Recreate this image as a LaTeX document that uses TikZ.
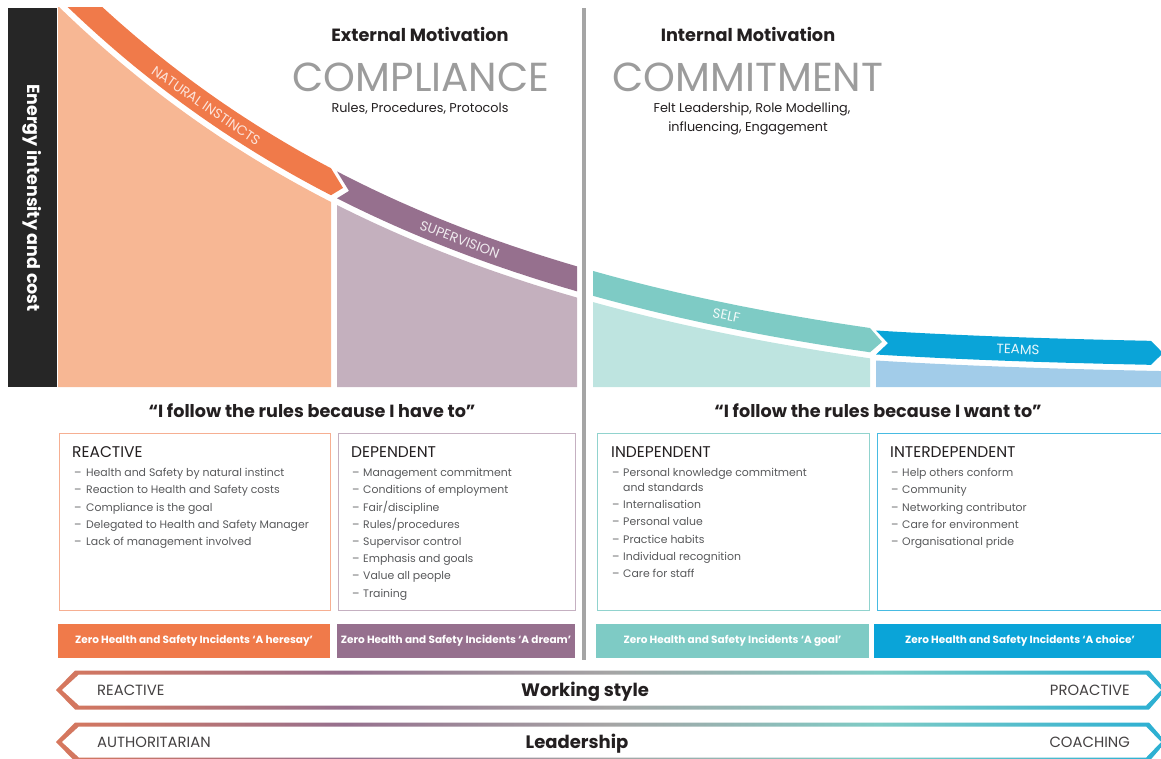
\documentclass[tikz,border=0pt]{standalone}
\usepackage{fontspec}
\setmainfont{Poppins}
\usetikzlibrary{positioning}

\definecolor{instinct}{HTML}{F07A4A}
\definecolor{instinctfill}{HTML}{F7B794}
\definecolor{superv}{HTML}{96708E}
\definecolor{supervfill}{HTML}{C4B0BE}
\definecolor{selfband}{HTML}{7ECBC5}
\definecolor{selffill}{HTML}{BEE4E0}
\definecolor{teams}{HTML}{0AA4D8}
\definecolor{teamsfill}{HTML}{A2CCE9}
\definecolor{axisbar}{HTML}{262626}
\definecolor{divider}{HTML}{A5A5A5}
\definecolor{headgray}{HTML}{9C9C9C}
\definecolor{darktext}{HTML}{231F20}
\definecolor{itemgray}{HTML}{58595B}

\pgfdeclarehorizontalshading{styleshade}{100bp}{color(0bp)=(instinct); color(20bp)=(instinct); color(38bp)=(superv); color(50bp)=(divider); color(62bp)=(selfband); color(80bp)=(teams); color(100bp)=(teams)}

% the falling curve and its offsets
\pgfmathdeclarefunction{crv}{1}{\pgfmathparse{419.5-411.5*exp(-(#1-60)/425)}}
\pgfmathdeclarefunction{crvoff}{2}{\pgfmathparse{crv(#1)-#2*sqrt(1+((419.5-crv(#1))/425)^2)}}
\pgfmathdeclarefunction{crvang}{1}{\pgfmathparse{-atan((419.5-crv(#1))/425)}}
\pgfmathdeclarefunction{flat}{1}{\pgfmathparse{376-15.5*exp(-(#1-876)/250)}}

\tikzset{
  bandtxt/.style={text=white, font=\fontsize{13.5}{15}\selectfont, inner sep=0pt, anchor=mid},
  headtxt/.style={text=darktext, font=\bfseries\fontsize{17.7}{20}\selectfont, anchor=mid},
  bigtxt/.style={text=headgray, font=\fontsize{40.5}{44}\selectfont, anchor=mid},
  subtxt/.style={text=darktext, font=\fontsize{12.8}{15}\selectfont, anchor=mid},
  quotetxt/.style={text=darktext, font=\bfseries\fontsize{17.6}{20}\selectfont, anchor=mid},
  stagebox/.style={draw=#1, line width=1.3pt, minimum height=177pt, anchor=north west},
  boxttl/.style={text=darktext, font=\fontsize{15.5}{18}\selectfont, anchor=mid west, inner sep=0pt},
  itemtxt/.style={text=itemgray, font=\fontsize{10.9}{13}\selectfont, anchor=mid west, inner sep=0pt},
  zerobar/.style={fill=#1, text=white, font=\bfseries\fontsize{10.5}{13}\selectfont, minimum height=34pt, inner sep=0pt},
  sidetxt/.style={text=darktext!85, font=\fontsize{14.8}{17}\selectfont, inner sep=0pt},
  axistxt/.style={text=darktext, font=\bfseries\fontsize{18}{20}\selectfont, anchor=mid},
}

\begin{document}
\begin{tikzpicture}[x=1pt, y=-1pt]
\useasboundingbox (0,0) rectangle (1161,759);

% energy axis
\fill[axisbar] (8,8) rectangle (57,387);
\node[text=white, font=\bfseries\fontsize{17.5}{20}\selectfont, rotate=-90] (energy) at (32,198) {Energy intensity and cost};

\begin{scope}
\clip (0,8) rectangle (1161,759);
% areas under the curve
\fill[instinctfill] (58,387) -- plot[domain=58:331,samples=60] (\x,{crv(\x)}) -- (331,387) -- cycle;
\fill[supervfill] (337,387) -- plot[domain=337:577,samples=40] (\x,{crv(\x)}) -- (577,387) -- cycle;
\fill[selffill] (593,387) -- plot[domain=593:870,samples=40] (\x,{crv(\x)}) -- (870,387) -- cycle;
\fill[teamsfill] (876,387) -- plot[domain=876:1161,samples=30] (\x,{flat(\x)}) -- (1161,387) -- cycle;

% bands along the curve
\fill[instinct] plot[domain=40:331,samples=60] (\x,{crvoff(\x,30)}) -- (343,{crvoff(343,18)})
  -- plot[domain=331:40,samples=60] (\x,{crvoff(\x,6)}) -- cycle;
\fill[superv] (337,{crvoff(337,30)}) -- plot[domain=337:577,samples=40] (\x,{crvoff(\x,30)})
  -- plot[domain=577:337,samples=40] (\x,{crvoff(\x,6)}) -- (349,{crvoff(349,18)}) -- cycle;
\fill[selfband] plot[domain=593:870,samples=40] (\x,{crvoff(\x,30)}) -- (882,{crvoff(882,18)})
  -- plot[domain=870:593,samples=40] (\x,{crvoff(\x,6)}) -- cycle;
\fill[teams] (876,{flat(876)-30}) -- plot[domain=876:1151,samples=30] (\x,{flat(\x)-30}) -- (1163,{flat(1163)-18})
  -- plot[domain=1151:876,samples=30] (\x,{flat(\x)-6}) -- (888,{flat(888)-18}) -- cycle;
\end{scope}

\node[bandtxt, text=white!80!instinct, rotate={crvang(205)}] (natural) at (205,{crvoff(205,16)}) {NATURAL INSTINCTS};
\node[bandtxt, text=white!85!superv, rotate={crvang(459)}] (supervision) at (459,{crvoff(459,16)}) {SUPERVISION};
\node[bandtxt, text=white!90!selfband, rotate={crvang(726)}] (self) at (726,{crvoff(726,16)}) {SELF};
\node[bandtxt, text=white!90!teams, rotate=-2] (teamlbl) at (1018,{flat(1018)-16}) {TEAMS};

% divider
\fill[divider] (582,8) rectangle (586,660);

% headings
\node[headtxt] (extmot) at (420,39) {External Motivation};
\node[bigtxt] (compliance) at (421,89) {COMPLIANCE};
\node[subtxt] (rules) at (420,110) {Rules, Procedures, Protocols};
\node[headtxt] (intmot) at (748,39) {Internal Motivation};
\node[bigtxt] (commitment) at (748,89) {COMMITMENT};
\node[subtxt] (felt) at (752,110) {Felt Leadership, Role Modelling,};
\node[subtxt] (influencing) at (748,129) {influencing, Engagement};

\node[quotetxt] (haveto) at (312,415) {“I follow the rules because I have to”};
\node[quotetxt] (wantto) at (878,415) {“I follow the rules because I want to”};

% stage boxes
\node[stagebox=instinct!60, minimum width=271pt] (reactbox) at (58.6,432.6) {};
\node[stagebox=superv!55, minimum width=237pt] (depbox) at (337.6,432.6) {};
\node[stagebox=selfband!85, minimum width=272pt] (indepbox) at (596.6,432.6) {};
\node[stagebox=teams!75, minimum width=300pt] (interbox) at (876.6,432.6) {};

\node[boxttl] (reacttitle) at (72,455) {REACTIVE};
\node[boxttl] (deptitle) at (351,455) {DEPENDENT};
\node[boxttl] (indeptitle) at (611,455) {INDEPENDENT};
\node[boxttl] (intertitle) at (890,455) {INTERDEPENDENT};

\foreach \txt [count=\i] in {Health and Safety by natural instinct, Reaction to Health and Safety costs,
    Compliance is the goal, Delegated to Health and Safety Manager, Lack of management involved}
  \node[itemtxt] (react-\i) at (74,{474+17.2*(\i-1)}) {\makebox[12pt][l]{–}\txt};
\foreach \txt [count=\i] in {Management commitment, Conditions of employment, Fair/discipline,
    Rules/procedures, Supervisor control, Emphasis and goals, Value all people, Training}
  \node[itemtxt] (dep-\i) at (352,{474+17.2*(\i-1)}) {\makebox[11pt][l]{–}\txt};
\node[itemtxt] (indep-0) at (612,474) {\makebox[11pt][l]{–}Personal knowledge commitment};
\node[itemtxt] (indep-00) at (612,489) {\hspace*{11pt}and standards};
\foreach \txt [count=\i] in {Internalisation, Personal value, Practice habits,
    Individual recognition, Care for staff}
  \node[itemtxt] (indep-\i) at (612,{506+17.2*(\i-1)}) {\makebox[11pt][l]{–}\txt};
\foreach \txt [count=\i] in {Help others conform, Community, Networking contributor,
    Care for environment, Organisational pride}
  \node[itemtxt] (inter-\i) at (891,{474+17.2*(\i-1)}) {\makebox[11pt][l]{–}\txt};

% zero incident bars
\node[zerobar=instinct, minimum width=272pt] (heresay) at (194,641) {Zero Health and Safety Incidents ‘A heresay’};
\node[zerobar=superv, minimum width=238pt] (dream) at (456,641) {Zero Health and Safety Incidents ‘A dream’};
\node[zerobar=selfband, minimum width=273pt] (goal) at (732.5,641) {Zero Health and Safety Incidents ‘A goal’};
\node[zerobar=teams, minimum width=292pt] (choice) at (1020,641) {Zero Health and Safety Incidents ‘A choice’};

% scales at the bottom
\foreach \yc in {690,742} {
  \shade[shading=styleshade] (56,\yc) -- (75,\yc-19.5) -- (1149,\yc-19.5) -- (1166,\yc)
    -- (1149,\yc+19.5) -- (75,\yc+19.5) -- cycle;
  \fill[white] (62,\yc) -- (79,\yc-15.5) -- (1146,\yc-15.5) -- (1161,\yc)
    -- (1146,\yc+15.5) -- (79,\yc+15.5) -- cycle;
}
\node[sidetxt, anchor=mid west] (reactive) at (97,693) {REACTIVE};
\node[axistxt] (working) at (585,694) {Working style};
\node[sidetxt, anchor=mid east] (proactive) at (1130,693) {PROACTIVE};
\node[sidetxt, anchor=mid west] (authoritarian) at (97,745) {AUTHORITARIAN};
\node[axistxt] (leadership) at (577,746) {Leadership};
\node[sidetxt, anchor=mid east] (coaching) at (1130,745) {COACHING};
\end{tikzpicture}
\end{document}
